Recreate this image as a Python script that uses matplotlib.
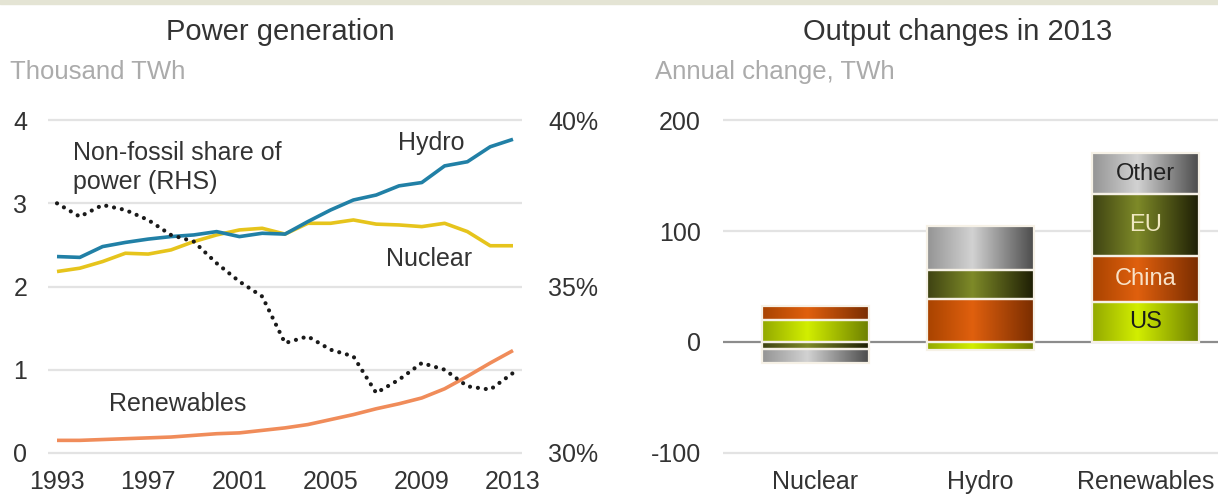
import numpy as np
import matplotlib
matplotlib.use('Agg')
import matplotlib.pyplot as plt
from matplotlib.colors import LinearSegmentedColormap
from matplotlib.patches import Rectangle

plt.rcParams['font.family'] = ['Liberation Sans', 'DejaVu Sans']
plt.rcParams['axes.unicode_minus'] = False

# ===== DATA =====
years = list(range(1993, 2014))
hydro = [2.36, 2.35, 2.48, 2.53, 2.57, 2.60, 2.62, 2.66, 2.60, 2.64, 2.63,
         2.78, 2.92, 3.04, 3.10, 3.21, 3.25, 3.45, 3.50, 3.68, 3.77]
nuclear = [2.18, 2.22, 2.30, 2.40, 2.39, 2.44, 2.54, 2.62, 2.68, 2.70, 2.63,
           2.76, 2.76, 2.80, 2.75, 2.74, 2.72, 2.76, 2.66, 2.49, 2.49]
renewables = [0.15, 0.15, 0.16, 0.17, 0.18, 0.19, 0.21, 0.23, 0.24, 0.27, 0.30,
              0.34, 0.40, 0.46, 0.53, 0.59, 0.66, 0.77, 0.92, 1.08, 1.23]
# non-fossil share of power, % (right-hand scale)
share = [37.5, 37.1, 37.45, 37.3, 37.0, 36.55, 36.35, 35.7, 35.15, 34.7, 33.3,
         33.5, 33.1, 32.9, 31.8, 32.2, 32.7, 32.5, 32.0, 31.9, 32.4]
year_ticks = [1993, 1997, 2001, 2005, 2009, 2013]

# output changes in 2013, TWh
categories = ['Nuclear', 'Hydro', 'Renewables']
regions = ['US', 'China', 'EU', 'Other']
us = [20, -7, 36]
china = [12, 39, 41.5]
eu = [-6, 26, 55.5]
other = [-13, 39.5, 37]

TEXT = '#333333'
GRID = '#e3e3e3'

# left edge / centre / right edge shades to fake the cylinder look
shades = {
    'US': ['#93a800', '#d2ee00', '#6c7e00'],
    'China': ['#a84300', '#e0600e', '#782c00'],
    'EU': ['#3e4212', '#7e8a28', '#1c1c04'],
    'Other': ['#949494', '#d2d2d2', '#4a4a4a'],
}
label_colors = {'US': '#1a1a1a', 'China': '#f8e2c8', 'EU': '#f0e8c0', 'Other': '#222222'}


def style_axes(ax):
    for s in ax.spines.values():
        s.set_visible(False)
    ax.tick_params(length=0, colors=TEXT, labelsize=18)


def line_chart(fig):
    """Left panel: power generation lines plus non-fossil share on the right axis"""
    ax = fig.add_axes([48 / 1218, 41 / 498, 474 / 1218, 341 / 498])
    style_axes(ax)
    ax.set_xlim(1992.605, 2013.395)
    ax.set_ylim(-0.05, 4.05)
    ax.set_yticks([0, 1, 2, 3, 4])
    ax.set_xticks(year_ticks)
    ax.tick_params(axis='y', pad=15)
    ax.tick_params(axis='x', pad=9)
    for v in [0, 1, 2, 3, 4]:
        ax.axhline(v, color=GRID, lw=1.6, zorder=0)

    ax.plot(years, renewables, color='#f08c5a', lw=2.6, solid_capstyle='butt')
    ax.plot(years, nuclear, color='#e6c41c', lw=2.6, solid_capstyle='butt')
    ax.plot(years, hydro, color='#2180a6', lw=2.6, solid_capstyle='butt')

    ax2 = ax.twinx()
    style_axes(ax2)
    ax2.set_ylim(30 - 0.05 * 2.5, 40 + 0.05 * 2.5)
    ax2.set_yticks([30, 35, 40])
    ax2.set_yticklabels(['30%', '35%', '40%'])
    ax2.tick_params(axis='y', pad=19)
    ax2.plot(years, share, color='#1a1a1a', lw=3.0,
             linestyle=(0, (0.01, 1.9)), dash_capstyle='round')

    # series labels
    ax.text(2009.4, 3.73, 'Hydro', fontsize=18, color=TEXT, ha='center', va='center')
    ax.text(2009.3, 2.33, 'Nuclear', fontsize=18, color=TEXT, ha='center', va='center')
    ax.text(1998.3, 0.59, 'Renewables', fontsize=18, color=TEXT, ha='center', va='center')
    ax.text(1993.7, 3.43, 'Non-fossil share of\npower (RHS)', fontsize=18, color=TEXT,
            ha='left', va='center', linespacing=1.3)


def bar_chart(fig):
    """Right panel: stacked bars with a horizontal gradient in each segment"""
    ax = fig.add_axes([723 / 1218, 40.6 / 498, 495 / 1218, 341.8 / 498])
    style_axes(ax)
    x = np.arange(len(categories))
    values = {'US': us, 'China': china, 'EU': eu, 'Other': other}

    pos_bottom = np.zeros(len(categories))
    neg_bottom = np.zeros(len(categories))
    grad = np.linspace(0, 1, 256).reshape(1, -1)
    for name in regions:
        vals = np.array(values[name], dtype=float)
        bottom = np.where(vals >= 0, pos_bottom, neg_bottom)
        bars = ax.bar(x, vals, bottom=bottom, width=0.65, facecolor='none',
                      edgecolor='#f6f1e6', linewidth=1.6, zorder=3)
        cmap = LinearSegmentedColormap.from_list(
            name, list(zip([0, 0.42, 1], shades[name])))
        for rect in bars:
            x0, y0 = rect.get_xy()
            img = ax.imshow(grad, cmap=cmap, aspect='auto', interpolation='bilinear',
                            extent=(x0, x0 + rect.get_width(), y0, y0 + rect.get_height()),
                            zorder=2)
            img.set_clip_path(rect)
        # label the renewables stack
        i = categories.index('Renewables')
        ax.text(x[i], bottom[i] + vals[i] / 2, name, ha='center', va='center',
                fontsize=17, color=label_colors[name], zorder=4)
        pos_bottom += np.where(vals >= 0, vals, 0)
        neg_bottom += np.where(vals < 0, vals, 0)

    ax.set_xlim(-0.56, 2.44)
    ax.set_ylim(-104, 204)
    ax.set_yticks([-100, 0, 100, 200])
    ax.set_xticks(x)
    ax.set_xticklabels(categories)
    ax.tick_params(axis='y', pad=16)
    ax.tick_params(axis='x', pad=9)
    for v in [-100, 100, 200]:
        ax.axhline(v, color=GRID, lw=1.6, zorder=0)
    ax.axhline(0, color='#8c8c8c', lw=1.6, zorder=1)


def main():
    fig = plt.figure(figsize=(12.18, 4.98), dpi=100)
    fig.patches.append(Rectangle((0, 1 - 4 / 498), 1, 4 / 498, transform=fig.transFigure,
                                 color='#e4e4d4', zorder=0))

    line_chart(fig)
    bar_chart(fig)

    # titles and unit labels
    fig.text(280 / 1218, 1 - 32 / 498, 'Power generation', fontsize=21, color=TEXT,
             ha='center', va='center')
    fig.text(958 / 1218, 1 - 32 / 498, 'Output changes in 2013', fontsize=21, color=TEXT,
             ha='center', va='center')
    fig.text(10 / 1218, 1 - 72 / 498, 'Thousand TWh', fontsize=18.5, color='#ababab',
             ha='left', va='center')
    fig.text(655 / 1218, 1 - 72 / 498, 'Annual change, TWh', fontsize=18.5, color='#ababab',
             ha='left', va='center')

    fig.savefig('out.png', dpi=100)


if __name__ == '__main__':
    main()
